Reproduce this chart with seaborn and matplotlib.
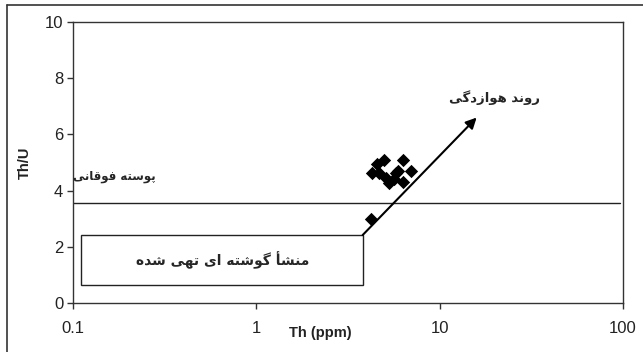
import matplotlib
matplotlib.use("Agg")
import matplotlib.pyplot as plt
from matplotlib.patches import Rectangle
import seaborn as sns
import pandas as pd

# Sample analyses: Th (ppm) and Th/U
th_ppm = [4.99, 4.55, 6.3, 4.26, 4.67, 5.1, 5.91, 5.78, 7.0, 5.64, 6.3, 5.3, 4.22]
th_u = [5.09, 4.95, 5.09, 4.62, 4.63, 4.45, 4.71, 4.63, 4.71, 4.41, 4.32, 4.27, 2.99]

# Reference fields
upper_crust_th_u = 3.55
depleted_mantle_th = [0.11, 3.8]
depleted_mantle_th_u = [0.65, 2.42]
weathering_start = [3.8, 2.42]
weathering_end = [15.9, 6.6]

x_ticks = [0.1, 1, 10, 100]
x_tick_labels = ["0.1", "1", "10", "100"]
y_ticks = [0, 2, 4, 6, 8, 10]

label_weathering = "روند هوازدگی"
label_crust = "پوسته فوقانی"
label_mantle = "منشأ گوشته ای تهی شده"

# Contextual forms: isolated, final, initial, medial (None = right-joining only)
FORMS = {
    "ا": ("\uFE8D", "\uFE8E", None, None),
    "أ": ("\uFE83", "\uFE84", None, None),
    "د": ("\uFEA9", "\uFEAA", None, None),
    "ر": ("\uFEAD", "\uFEAE", None, None),
    "ز": ("\uFEAF", "\uFEB0", None, None),
    "و": ("\uFEED", "\uFEEE", None, None),
    "ن": ("\uFEE5", "\uFEE6", "\uFEE7", "\uFEE8"),
    "ه": ("\uFEE9", "\uFEEA", "\uFEEB", "\uFEEC"),
    "گ": ("\uFB92", "\uFB93", "\uFB94", "\uFB95"),
    "ی": ("\uFBFC", "\uFBFD", "\uFBFE", "\uFBFF"),
    "پ": ("\uFB56", "\uFB57", "\uFB58", "\uFB59"),
    "س": ("\uFEB1", "\uFEB2", "\uFEB3", "\uFEB4"),
    "ت": ("\uFE95", "\uFE96", "\uFE97", "\uFE98"),
    "ف": ("\uFED1", "\uFED2", "\uFED3", "\uFED4"),
    "ق": ("\uFED5", "\uFED6", "\uFED7", "\uFED8"),
    "م": ("\uFEE1", "\uFEE2", "\uFEE3", "\uFEE4"),
    "ش": ("\uFEB5", "\uFEB6", "\uFEB7", "\uFEB8"),
}


def shape_rtl(text):
    """Join Persian letters into their contextual forms and order them for LTR drawing."""
    out = []
    n = len(text)
    for i, ch in enumerate(text):
        if ch not in FORMS:
            out.append(ch)
            continue
        prev = text[i - 1] if i > 0 else None
        nxt = text[i + 1] if i + 1 < n else None
        joins_prev = prev in FORMS and FORMS[prev][2] is not None
        dual = FORMS[ch][2] is not None
        joins_next = dual and nxt in FORMS
        iso, fin, ini, med = FORMS[ch]
        if joins_prev and joins_next:
            out.append(med)
        elif joins_prev:
            out.append(fin)
        elif joins_next:
            out.append(ini)
        else:
            out.append(iso)
    return "".join(reversed(out))


sns.set_theme(style="white")
plt.rcParams["font.family"] = ["Liberation Sans", "DejaVu Sans"]

fig = plt.figure(figsize=(6.43, 3.52), dpi=100)
ax = fig.add_axes([0.1135, 0.139, 0.8555, 0.7985])

df = pd.DataFrame({"Th": th_ppm, "ThU": th_u})
sns.scatterplot(data=df, x="Th", y="ThU", marker="D", s=46, color="black",
                edgecolor="black", linewidth=0, ax=ax, zorder=3)

ax.set_xscale("log")
ax.set_xlim(0.1, 100)
ax.set_ylim(0, 10)
ax.set_xticks(x_ticks)
ax.set_xticklabels(x_tick_labels)
ax.set_yticks(y_ticks)
ax.minorticks_off()
ax.tick_params(axis="both", which="major", direction="out", length=4, width=1,
               color="#333333", labelsize=12, labelcolor="#222222", pad=3,
               left=True, bottom=True)
ax.tick_params(axis="x", pad=9)

for sp in ax.spines.values():
    sp.set_color("#333333")
    sp.set_linewidth(1.0)

ax.set_xlabel("Th (ppm)", fontsize=10.5, fontweight="bold", color="#222222")
ax.xaxis.set_label_coords(0.45, -0.08)
ax.set_ylabel("Th/U", fontsize=10.5, fontweight="bold", color="#222222")
ax.yaxis.set_label_coords(-0.075, 0.5)

# Upper crust line
ax.axhline(upper_crust_th_u, xmin=0, xmax=0.995, color="#222222", lw=1.0)

# Depleted mantle source box
ax.add_patch(Rectangle((depleted_mantle_th[0], depleted_mantle_th_u[0]),
                       depleted_mantle_th[1] - depleted_mantle_th[0],
                       depleted_mantle_th_u[1] - depleted_mantle_th_u[0],
                       fill=False, edgecolor="#222222", lw=1.0))

# Weathering trend arrow
ax.annotate("", xy=weathering_end, xytext=weathering_start,
            arrowprops=dict(arrowstyle="-|>", color="black", lw=1.5,
                            mutation_scale=16, shrinkA=0, shrinkB=0))

persian_font = ["DejaVu Sans"]
ax.text(0.655, 1.53, shape_rtl(label_mantle), family=persian_font,
        fontsize=10, fontweight="bold", ha="center", va="center")
ax.text(0.1, 4.5, shape_rtl(label_crust), family=persian_font,
        fontsize=8.5, fontweight="bold", ha="left", va="center")
ax.text(19.9, 7.3, shape_rtl(label_weathering), family=persian_font,
        fontsize=9.5, fontweight="bold", ha="center", va="center")

# Outer frame of the figure
fig.add_artist(plt.Line2D([7 / 643, 1.0], [1 - 5 / 352, 1 - 5 / 352],
                          transform=fig.transFigure, color="#333333", lw=1.2))
fig.add_artist(plt.Line2D([7 / 643, 7 / 643], [0.0, 1 - 5 / 352],
                          transform=fig.transFigure, color="#333333", lw=1.2))

fig.savefig("out.png", dpi=100)
